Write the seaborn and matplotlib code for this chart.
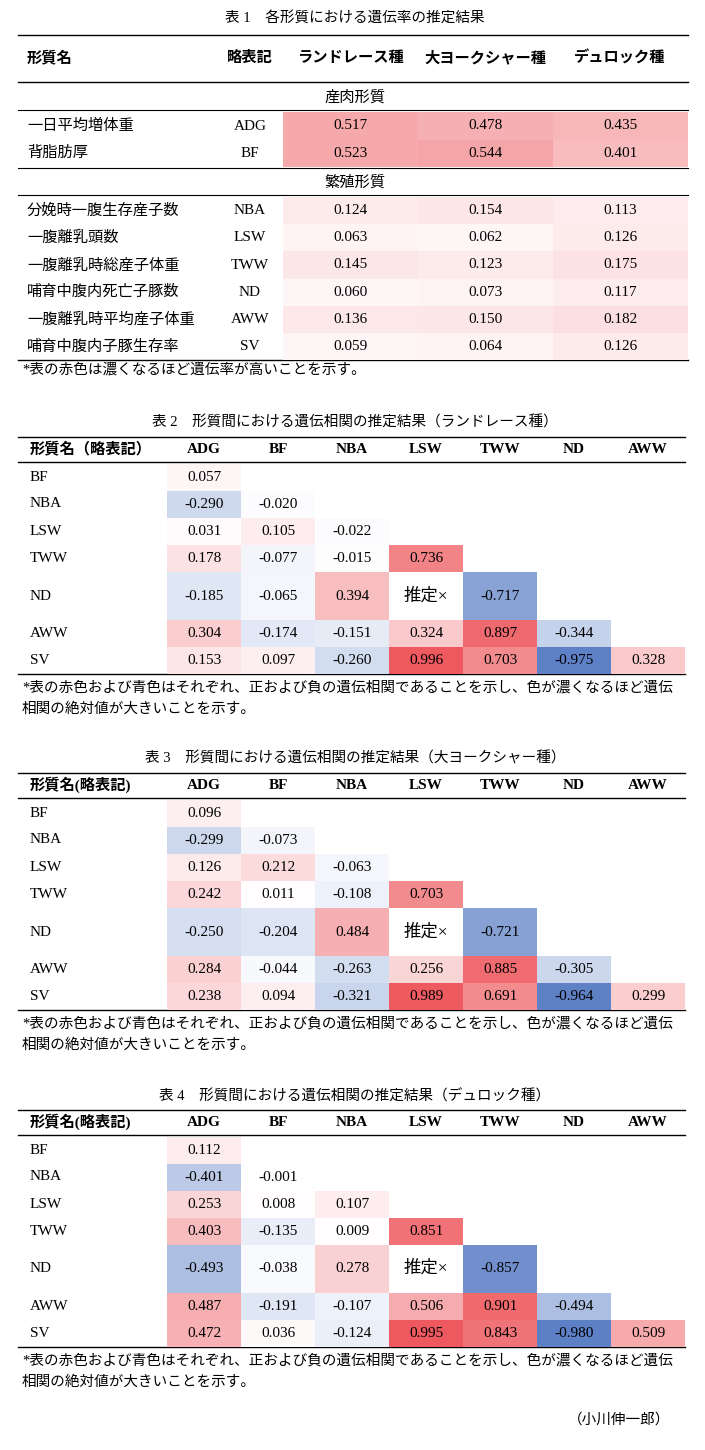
import numpy as np
import pandas as pd
import matplotlib
matplotlib.use("Agg")
import matplotlib.pyplot as plt
from matplotlib.colors import LinearSegmentedColormap
import seaborn as sns

plt.rcParams["font.family"] = ["Liberation Serif", "Noto Sans CJK JP"]

# ---- data ----
t1_traits = ["一日平均増体重", "背脂肪厚", "分娩時一腹生存産子数", "一腹離乳頭数",
             "一腹離乳時総産子体重", "哺育中腹内死亡子豚数", "一腹離乳時平均産子体重", "哺育中腹内子豚生存率"]
t1_abbr = ["ADG", "BF", "NBA", "LSW", "TWW", "ND", "AWW", "SV"]
breeds = ["ランドレース種", "大ヨークシャー種", "デュロック種"]
h2_landrace = [0.517, 0.523, 0.124, 0.063, 0.145, 0.060, 0.136, 0.059]
h2_yorkshire = [0.478, 0.544, 0.154, 0.062, 0.123, 0.073, 0.150, 0.064]
h2_duroc = [0.435, 0.401, 0.113, 0.126, 0.175, 0.117, 0.182, 0.126]

cols = ["ADG", "BF", "NBA", "LSW", "TWW", "ND", "AWW"]
rows = ["BF", "NBA", "LSW", "TWW", "ND", "AWW", "SV"]
nan = np.nan
rg_landrace = [[0.057], [-0.290, -0.020], [0.031, 0.105, -0.022],
               [0.178, -0.077, -0.015, 0.736], [-0.185, -0.065, 0.394, nan, -0.717],
               [0.304, -0.174, -0.151, 0.324, 0.897, -0.344],
               [0.153, 0.097, -0.260, 0.996, 0.703, -0.975, 0.328]]
rg_yorkshire = [[0.096], [-0.299, -0.073], [0.126, 0.212, -0.063],
                [0.242, 0.011, -0.108, 0.703], [-0.250, -0.204, 0.484, nan, -0.721],
                [0.284, -0.044, -0.263, 0.256, 0.885, -0.305],
                [0.238, 0.094, -0.321, 0.989, 0.691, -0.964, 0.299]]
rg_duroc = [[0.112], [-0.401, -0.001], [0.253, 0.008, 0.107],
            [0.403, -0.135, 0.009, 0.851], [-0.493, -0.038, 0.278, nan, -0.857],
            [0.487, -0.191, -0.107, 0.506, 0.901, -0.494],
            [0.472, 0.036, -0.124, 0.995, 0.843, -0.980, 0.509]]

W, H = 705, 1450
fig = plt.figure(figsize=(W / 100, H / 100), dpi=100)
bg = fig.add_axes([0, 0, 1, 1])
bg.set_xlim(0, W)
bg.set_ylim(H, 0)
bg.axis("off")

cmap = LinearSegmentedColormap.from_list(
    "rb", [(0.35, 0.49, 0.77), (1, 1, 1), (0.93, 0.35, 0.37)])


def box(x0, y0, x1, y1):
    return [x0 / W, 1 - y1 / H, (x1 - x0) / W, (y1 - y0) / H]


def heat(data, x0, y0, x1, y1):
    ax = fig.add_axes(box(x0, y0, x1, y1))
    sns.heatmap(pd.DataFrame(data), ax=ax, cmap=cmap, vmin=-1, vmax=1, cbar=False,
                annot=True, fmt=".3f", annot_kws={"color": "black", "fontsize": 11},
                xticklabels=False, yticklabels=False)
    ax.axis("off")


def hline(y, x0, x1, lw=1.0):
    bg.plot([x0, x1], [y, y], color="black", lw=lw)


def txt(x, y, s, ha="left", **kw):
    bg.text(x, y, s, ha=ha, va="center", fontsize=kw.pop("fs", 11), **kw)


# ---- table 1 ----
txt(355, 18, "表 1　各形質における遺伝率の推定結果", ha="center", fs=10.5)
hline(35, 18, 688)
txt(27, 58, "形質名", weight="bold")
txt(250, 58, "略表記", ha="center", weight="bold")
for i, b in enumerate(breeds):
    txt(350 + 135 * i, 58, b, ha="center", weight="bold")
hline(82, 18, 688)
txt(355, 97, "産肉形質", ha="center", style="italic")
hline(110, 18, 688, 0.8)
h2 = np.array([h2_landrace, h2_yorkshire, h2_duroc]).T
heat(h2[:2], 283, 112, 688, 167)
for i in range(2):
    y = 126 + 27 * i
    txt(27, y, t1_traits[i])
    txt(250, y, t1_abbr[i], ha="center")
hline(168, 18, 688, 0.8)
txt(355, 182, "繁殖形質", ha="center", style="italic")
hline(195, 18, 688, 0.8)
heat(h2[2:], 283, 197, 688, 360)
for i in range(2, 8):
    y = 197 + 27.2 * (i - 2) + 13.6
    txt(27, y, t1_traits[i])
    txt(250, y, t1_abbr[i], ha="center")
hline(360, 18, 688)
txt(22, 370, "*表の赤色は濃くなるほど遺伝率が高いことを示す。", fs=10.5)

# ---- tables 2-4 ----
specs = [(0, "表 2　形質間における遺伝相関の推定結果（ランドレース種）", "形質名（略表記）", rg_landrace),
         (336, "表 3　形質間における遺伝相関の推定結果（大ヨークシャー種）", "形質名(略表記)", rg_yorkshire),
         (673, "表 4　形質間における遺伝相関の推定結果（デュロック種）", "形質名(略表記)", rg_duroc)]
cx0, cw = 167, 74
for off, title, head, rg in specs:
    mat = np.full((7, 7), np.nan)
    for i, r in enumerate(rg):
        mat[i, :len(r)] = r
    txt(355, 423 + off, title, ha="center", fs=10.5)
    hline(437 + off, 18, 685)
    txt(30, 449 + off, head, weight="bold")
    for j, c in enumerate(cols):
        txt(cx0 + cw * (j + 0.5), 449 + off, c, ha="center", weight="bold")
    hline(462 + off, 18, 685)
    edges = [464, 490, 517, 545, 572, 620, 647, 674]
    heat(mat[0:4], cx0, edges[0] + off, cx0 + 7 * cw, edges[4] + off)
    heat(mat[4:5], cx0, edges[4] + off, cx0 + 7 * cw, edges[5] + off)
    heat(mat[5:7], cx0, edges[5] + off, cx0 + 7 * cw, edges[7] + off)
    for i, r in enumerate(rows):
        txt(30, (edges[i] + edges[i + 1]) / 2 + off, r)
    txt(cx0 + cw * 3.5, (edges[4] + edges[5]) / 2 + off, "推定×", ha="center", fs=12.5)
    hline(674 + off, 18, 685)
    txt(22, 688 + off, "*表の赤色および青色はそれぞれ、正および負の遺伝相関であることを示し、色が濃くなるほど遺伝", fs=10.5)
    txt(22, 709 + off, "相関の絶対値が大きいことを示す。", fs=10.5)

txt(670, 1420, "（小川伸一郎）", ha="right", fs=10.5)

fig.savefig("out.png", dpi=100)
